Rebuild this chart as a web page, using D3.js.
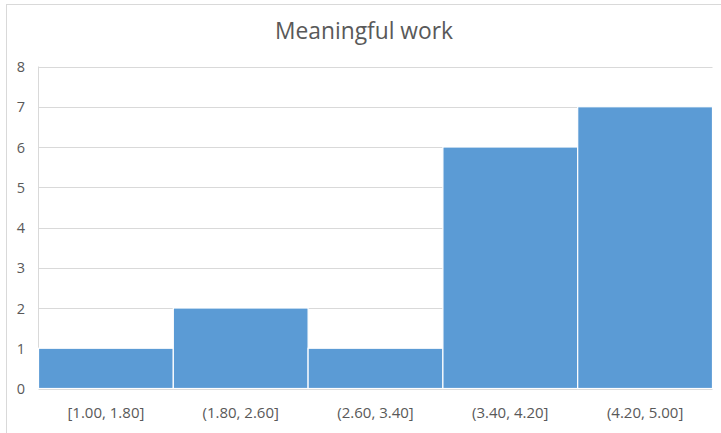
<!DOCTYPE html>
<html>
<head>
<meta charset="utf-8">
<script src="https://cdn.jsdelivr.net/npm/d3@7"></script>
<style>
  html, body { margin: 0; padding: 0; background: #fff; }
  svg { display: block; }
</style>
</head>
<body>
<svg id="chart" width="721" height="433"></svg>
<script>
// Histogram bins and their counts
const binLabels = ["[1.00, 1.80]", "(1.80, 2.60]", "(2.60, 3.40]", "(3.40, 4.20]", "(4.20, 5.00]"];
const counts = [1, 2, 1, 6, 7];
const yTicks = [0, 1, 2, 3, 4, 5, 6, 7, 8];
const title = "Meaningful work";

const svg = d3.select("#chart");
const W = 721, H = 433;
const margin = { left: 38.5, right: 8.5, top: 66.5, bottom: 44.5 };
const textColor = "#595959";

// Chart frame
svg.append("rect")
  .attr("x", 6.5).attr("y", 4.5)
  .attr("width", W + 10).attr("height", H + 10)
  .attr("fill", "#fff")
  .attr("stroke", "#d9d9d9")
  .attr("stroke-width", 1);

const x = d3.scaleBand()
  .domain(binLabels)
  .range([margin.left, W - margin.right])
  .paddingInner(0).paddingOuter(0);

const y = d3.scaleLinear()
  .domain([0, 8])
  .range([H - margin.bottom, margin.top]);

// Horizontal gridlines
svg.append("g")
  .selectAll("line")
  .data(yTicks)
  .join("line")
  .attr("x1", margin.left).attr("x2", W - margin.right)
  .attr("y1", d => Math.round(y(d)) + 0.5)
  .attr("y2", d => Math.round(y(d)) + 0.5)
  .attr("stroke", "#d9d9d9")
  .attr("stroke-width", 1);

// Vertical axis line on the left of the plot
svg.append("line")
  .attr("x1", margin.left).attr("x2", margin.left)
  .attr("y1", y(8)).attr("y2", y(0))
  .attr("stroke", "#d9d9d9");

// Bars
svg.append("g")
  .selectAll("rect")
  .data(counts)
  .join("rect")
  .attr("x", (d, i) => x(binLabels[i]))
  .attr("width", x.bandwidth())
  .attr("y", d => y(d))
  .attr("height", d => y(0) - y(d))
  .attr("fill", "#5b9bd5")
  .attr("stroke", "#ffffff")
  .attr("stroke-width", 1.2);

// Y axis labels
const yAxis = d3.axisLeft(y).tickValues(yTicks).tickSize(0).tickFormat(d3.format("d"));
const gy = svg.append("g")
  .attr("transform", `translate(${margin.left},0)`)
  .call(yAxis);
gy.select(".domain").remove();
gy.selectAll("text")
  .attr("x", -17.5)
  .attr("dy", "0.36em")
  .attr("text-anchor", "middle")
  .attr("fill", textColor)
  .style("font-family", "'Open Sans', sans-serif")
  .style("font-size", "14.5px");

// X axis labels
const xAxis = d3.axisBottom(x).tickSize(0);
const gx = svg.append("g")
  .attr("transform", `translate(0,${y(0)})`)
  .call(xAxis);
gx.select(".domain").remove();
gx.selectAll("text")
  .attr("y", 24.5)
  .attr("dy", "0.36em")
  .attr("fill", textColor)
  .style("font-family", "'Open Sans', sans-serif")
  .style("font-size", "15px");

// Title
svg.append("text")
  .attr("x", 364)
  .attr("y", 38.5)
  .attr("text-anchor", "middle")
  .attr("fill", textColor)
  .style("font-family", "'Open Sans', sans-serif")
  .style("font-size", "22.8px")
  .text(title);
</script>
</body>
</html>
